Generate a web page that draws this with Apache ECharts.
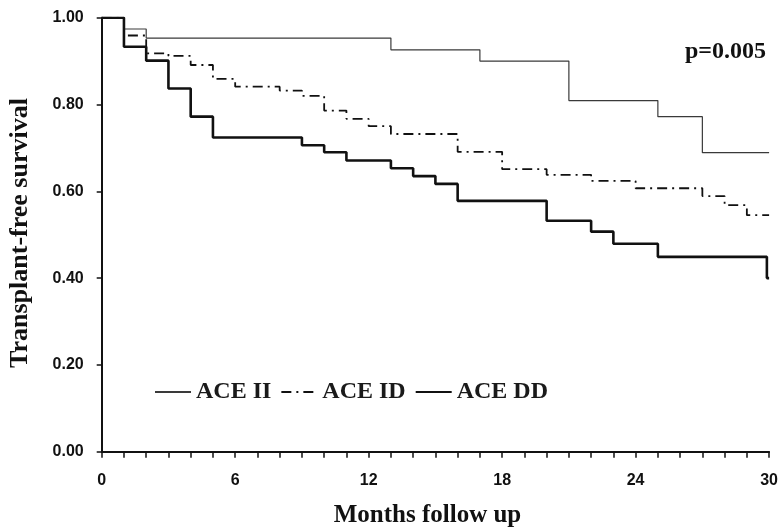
<!DOCTYPE html>
<html>
<head>
<meta charset="utf-8">
<script src="https://cdn.jsdelivr.net/npm/echarts@6/dist/echarts.min.js"></script>
<style>
html,body{margin:0;padding:0;background:#fff;}
#chart{width:781px;height:527px;}
</style>
</head>
<body>
<div id="chart"></div>
<script>
// Kaplan-Meier step data (months, survival after each event)
var iiMonths = [0, 1, 2, 13, 17, 21, 25, 27, 30];
var iiSurv   = [1.0, 0.974, 0.953, 0.926, 0.900, 0.809, 0.772, 0.689, 0.689];

var idMonths = [0, 1, 2, 3, 4, 5, 6, 8, 9, 10, 11, 12, 13, 16, 18, 20, 22, 24, 27, 28, 29, 30];
var idSurv   = [1.0, 0.959, 0.918, 0.912, 0.891, 0.859, 0.841, 0.832, 0.820, 0.786, 0.767, 0.750, 0.732, 0.691, 0.651, 0.638, 0.624, 0.607, 0.589, 0.568, 0.545, 0.545];

var ddMonths = [0, 1, 2, 3, 4, 5, 9, 10, 11, 13, 14, 15, 16, 20, 22, 23, 25, 29.9, 30];
var ddSurv   = [1.0, 0.933, 0.901, 0.837, 0.772, 0.724, 0.706, 0.690, 0.671, 0.653, 0.635, 0.617, 0.578, 0.532, 0.507, 0.479, 0.449, 0.400, 0.400];

var seriesNames = ['ACE II', 'ACE ID', 'ACE DD'];
var xTickLabels = [0, 6, 12, 18, 24, 30];
var pValueText = 'p=0.005';
var xTitle = 'Months follow up';
var yTitle = 'Transplant-free survival';

function pairs(xs, ys) { return xs.map(function (x, i) { return [x, ys[i]]; }); }

var serif = '"Liberation Serif", "Times New Roman", serif';
var sans = '"Liberation Sans", Arial, sans-serif';

var chart = echarts.init(document.getElementById('chart'), null, {renderer: 'canvas'});
chart.setOption({
  animation: false,
  backgroundColor: '#ffffff',
  grid: {left: 101.7, right: 10, top: 17.7, bottom: 75.3, containLabel: false},
  xAxis: {
    type: 'value', min: 0, max: 30, interval: 1,
    axisLine: {show: true, lineStyle: {color: '#111', width: 2}},
    axisTick: {show: true, length: 6, lineStyle: {color: '#111', width: 1.5}},
    axisLabel: {
      margin: 21, color: '#111', fontFamily: sans, fontWeight: 'bold', fontSize: 16,
      formatter: function (v) { return xTickLabels.indexOf(v) >= 0 ? String(v) : ''; }
    },
    splitLine: {show: false}
  },
  yAxis: {
    type: 'value', min: 0, max: 1, interval: 0.2,
    axisLine: {show: true, lineStyle: {color: '#111', width: 2}},
    axisTick: {show: true, length: 5, lineStyle: {color: '#111', width: 1.5}},
    axisLabel: {
      margin: 18, color: '#111', fontFamily: sans, fontWeight: 'bold', fontSize: 16,
      formatter: function (v) { return v.toFixed(2); }
    },
    splitLine: {show: false}
  },
  legend: {
    left: 154, top: 380, orient: 'horizontal', padding: 0,
    itemWidth: 36, itemHeight: 14, itemGap: 9,
    itemStyle: {opacity: 0},
    textStyle: {fontFamily: serif, fontWeight: 'bold', fontSize: 24, color: '#1a1a1a', lineHeight: 24},
    data: seriesNames
  },
  graphic: [
    {type: 'text', left: 685, top: 40, style: {text: pValueText, font: 'bold 24px ' + serif, fill: '#111'}},
    {type: 'text', x: 427.5, y: 516, style: {text: xTitle, font: 'bold 25px ' + serif, fill: '#111', textAlign: 'center', textVerticalAlign: 'middle'}},
    {type: 'text', x: 20, y: 233, rotation: Math.PI / 2, style: {text: yTitle, font: 'bold 26px ' + serif, fill: '#111', textAlign: 'center', textVerticalAlign: 'middle'}}
  ],
  series: [
    {name: seriesNames[0], type: 'line', step: 'end', showSymbol: false, symbol: 'none',
     lineStyle: {color: '#3a3a3a', width: 1.2, type: 'solid'}, itemStyle: {color: '#3a3a3a'},
     data: pairs(iiMonths, iiSurv), z: 3},
    {name: seriesNames[1], type: 'line', step: 'end', showSymbol: false, symbol: 'none',
     lineStyle: {color: '#111', width: 1.8, type: [10, 5, 2, 5]}, itemStyle: {color: '#111'},
     data: pairs(idMonths, idSurv), z: 4},
    {name: seriesNames[2], type: 'line', step: 'end', showSymbol: false, symbol: 'none',
     lineStyle: {color: '#111', width: 2.6, type: 'solid'}, itemStyle: {color: '#111'},
     data: pairs(ddMonths, ddSurv), z: 5}
  ]
});
</script>
</body>
</html>
